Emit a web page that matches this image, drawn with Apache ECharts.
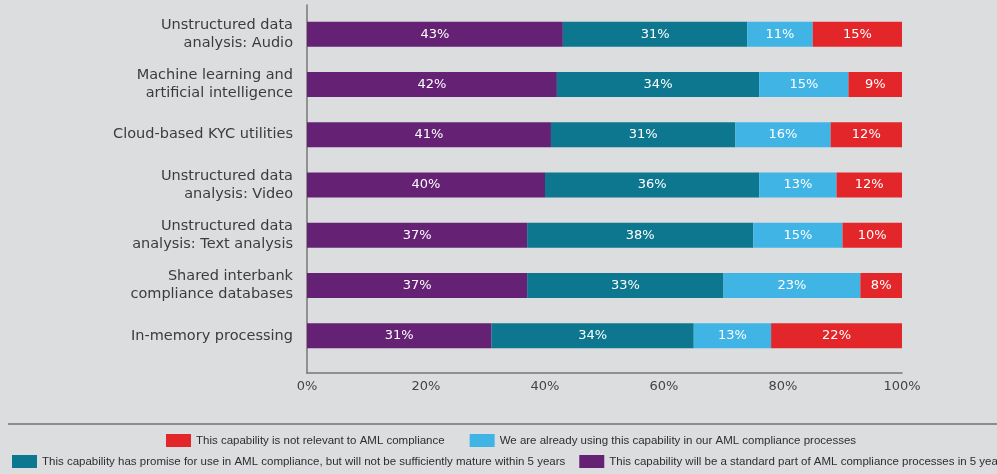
<!DOCTYPE html>
<html>
<head>
<meta charset="utf-8">
<script src="https://cdn.jsdelivr.net/npm/echarts@6/dist/echarts.min.js"></script>
<style>
  html, body { margin: 0; padding: 0; background: #dcdddf; }
  #chart { width: 997px; height: 474px; }
</style>
</head>
<body>
<div id="chart"></div>
<script>
// categories, top to bottom
var categories = [
  'Unstructured data\nanalysis: Audio',
  'Machine learning and\nartificial intelligence',
  'Cloud-based KYC utilities',
  'Unstructured data\nanalysis: Video',
  'Unstructured data\nanalysis: Text analysis',
  'Shared interbank\ncompliance databases',
  'In-memory processing'
];

// values in %, same order as categories
var standardIn5 = [43, 42, 41, 40, 37, 37, 31];
var promiseNotMature = [31, 34, 31, 36, 38, 33, 34];
var alreadyUsing = [11, 15, 16, 13, 15, 23, 13];
var notRelevant = [15, 9, 12, 12, 10, 8, 22];

var xTicks = [0, 20, 40, 60, 80, 100];

var names = {
  red: 'This capability is not relevant to AML compliance',
  cyan: 'We are already using this capability in our AML compliance processes',
  teal: 'This capability has promise for use in AML compliance, but will not be sufficiently mature within 5 years',
  purple: 'This capability will be a standard part of AML compliance processes in 5 years'
};

var chart = echarts.init(document.getElementById('chart'));

function barSeries(name, data, color) {
  return {
    name: name,
    type: 'bar',
    stack: 'all',
    xAxisIndex: 0,
    yAxisIndex: 0,
    barWidth: 25,
    clip: true,
    itemStyle: { color: color },
    label: {
      show: true,
      position: 'inside',
      color: '#fff',
      fontFamily: 'DejaVu Sans',
      fontSize: 13,
      formatter: '{c}%'
    },
    data: data
  };
}

var legendText = {
  fontFamily: 'Liberation Sans',
  fontSize: 11.5,
  color: '#2e2e2e'
};

chart.setOption({
  backgroundColor: '#dcdddf',
  animation: false,
  textStyle: { fontFamily: 'DejaVu Sans' },
  grid: [
    { left: 307, right: 95, top: 9, height: 352 },  // bars
    { left: 307, right: 95, top: 5, height: 368 }   // axis frame
  ],
  xAxis: [
    { gridIndex: 0, type: 'value', min: 0, max: 100, show: false },
    {
      gridIndex: 1,
      type: 'value',
      min: xTicks[0],
      max: xTicks[xTicks.length - 1],
      interval: 20,
      axisLine: { show: true, lineStyle: { color: '#777', width: 1.5 } },
      axisTick: { show: false },
      splitLine: { show: false },
      axisLabel: {
        color: '#444',
        fontSize: 13,
        margin: 7,
        formatter: '{value}%'
      }
    }
  ],
  yAxis: [
    {
      gridIndex: 0,
      type: 'category',
      inverse: true,
      data: categories,
      axisLine: { show: false },
      axisTick: { show: false },
      axisLabel: {
        color: '#3c3c3c',
        fontSize: 14.5,
        lineHeight: 18,
        margin: 14,
        align: 'right'
      }
    },
    {
      gridIndex: 1,
      type: 'value',
      axisLine: { show: true, lineStyle: { color: '#777', width: 1.5 } },
      axisTick: { show: false },
      axisLabel: { show: false },
      splitLine: { show: false }
    }
  ],
  legend: [
    {
      data: [names.red, names.cyan],
      left: 166,
      top: 434,
      width: 2000,
      padding: 0,
      itemWidth: 25,
      itemHeight: 13,
      itemGap: 25,
      icon: 'rect',
      textStyle: legendText
    },
    {
      data: [names.teal, names.purple],
      left: 12,
      top: 455,
      width: 2000,
      padding: 0,
      itemWidth: 25,
      itemHeight: 13,
      itemGap: 14,
      icon: 'rect',
      textStyle: legendText
    }
  ],
  graphic: [
    {
      type: 'line',
      shape: { x1: 8, y1: 424, x2: 997, y2: 424 },
      style: { stroke: '#707070', lineWidth: 1.5 }
    }
  ],
  series: [
    barSeries(names.purple, standardIn5, '#652274'),
    barSeries(names.teal, promiseNotMature, '#0e7790'),
    barSeries(names.cyan, alreadyUsing, '#40b4e5'),
    barSeries(names.red, notRelevant, '#e3262a')
  ]
});
</script>
</body>
</html>
